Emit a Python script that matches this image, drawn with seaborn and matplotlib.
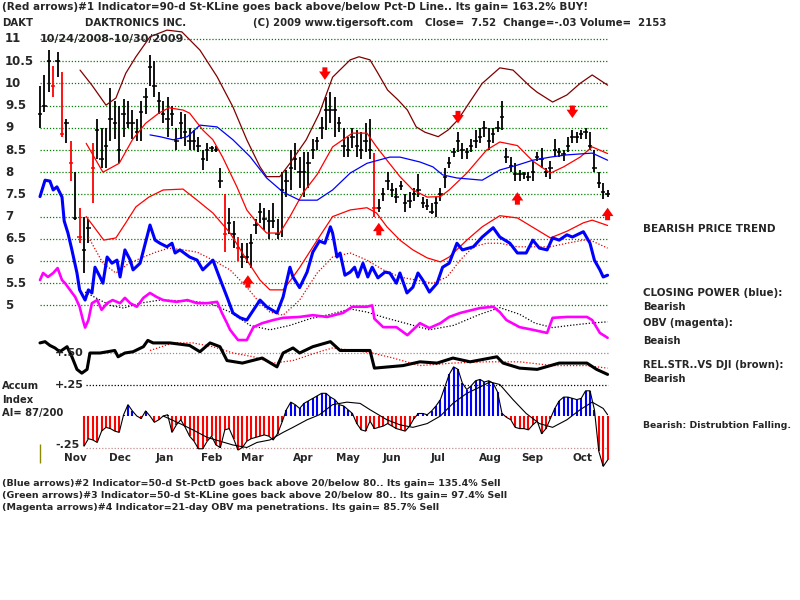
import matplotlib
matplotlib.use('Agg')
import matplotlib.pyplot as plt
import matplotlib.transforms as mtransforms
import seaborn as sns

# ==================================================
# 数据：DAKT 日线（每两天取一根），交易日序号 0 = 10/24/2008
# ==================================================
bar_day = list(range(0, 259, 2))
bar_hi = [9.95, 10.2, 10.75, 10.4, 10.7, 10.25, 9.2, 8.7, 8.0, 7.2,
          7.0, 6.95, 8.65, 9.2, 9.0, 9.0, 9.9, 9.6, 9.5, 9.65,
          9.6, 9.4, 9.2, 9.6, 9.9, 10.65, 10.5, 9.8, 9.6, 9.7,
          9.5, 9.0, 9.35, 9.3, 9.0, 8.95, 8.8, 8.5, 8.65, 8.6,
          8.6, 8.1, 7.5, 7.2, 6.9, 6.55, 6.4, 6.4, 6.6, 6.95,
          7.3, 7.2, 7.15, 7.3, 6.95, 8.0, 8.05, 8.5, 8.65, 8.35,
          8.45, 8.45, 8.75, 8.8, 9.25, 9.7, 9.8, 9.7, 9.25, 9.0,
          8.8, 9.0, 8.95, 8.9, 9.1, 9.2, 8.43, 7.4, 7.65, 8.0,
          7.75, 7.65, 7.8, 7.5, 7.55, 7.65, 7.95, 7.45, 7.4, 7.3,
          7.45, 7.65, 8.1, 8.35, 8.55, 8.9, 8.65, 8.55, 8.75, 8.95,
          9.0, 9.15, 9.0, 9.0, 9.15, 9.6, 8.55, 8.35, 8.2, 8.05,
          8.0, 8.0, 8.25, 8.45, 8.55, 8.1, 8.25, 8.75, 8.55, 8.5,
          8.8, 8.95, 8.9, 8.95, 9.0, 8.9, 8.5, 8.0, 7.75, 7.6]
bar_lo = [9.0, 9.35, 9.8, 9.7, 10.15, 8.8, 8.65, 7.8, 6.93, 6.4,
          5.73, 6.4, 7.3, 8.3, 8.1, 8.1, 8.7, 8.75, 8.2, 8.8,
          9.0, 8.75, 8.7, 8.7, 9.3, 9.95, 9.7, 9.3, 9.1, 8.8,
          9.05, 8.5, 8.75, 8.6, 8.5, 8.5, 8.45, 8.05, 8.25, 8.45,
          8.45, 7.65, 6.2, 6.6, 6.3, 6.0, 5.85, 5.95, 5.85, 6.6,
          6.85, 6.7, 6.5, 6.75, 6.5, 6.55, 7.45, 7.6, 8.05, 7.65,
          7.45, 7.65, 8.3, 8.5, 8.75, 8.95, 9.1, 8.8, 8.9, 8.35,
          8.35, 8.55, 8.35, 8.3, 8.45, 8.3, 7.0, 7.1, 7.35, 7.6,
          7.45, 7.3, 7.6, 7.1, 7.2, 7.35, 7.45, 7.2, 7.15, 7.05,
          7.0, 7.35, 7.65, 8.1, 8.35, 8.45, 8.3, 8.3, 8.45, 8.55,
          8.65, 8.8, 8.5, 8.65, 8.9, 8.95, 8.2, 8.0, 7.8, 7.8,
          7.85, 7.8, 7.8, 8.25, 8.1, 7.9, 7.85, 8.35, 8.35, 8.25,
          8.45, 8.65, 8.65, 8.75, 8.75, 8.5, 8.0, 7.65, 7.4, 7.45]
bar_cl = [9.3, 9.5, 10.5, 9.95, 10.5, 8.85, 9.1, 8.2, 6.97, 6.55,
          6.25, 6.75, 8.1, 8.95, 8.3, 8.6, 9.2, 9.1, 8.5, 9.3,
          9.1, 9.1, 8.9, 9.35, 9.7, 10.37, 9.95, 9.6, 9.3, 9.2,
          9.3, 8.7, 9.1, 8.9, 8.7, 8.7, 8.6, 8.3, 8.5, 8.55,
          8.5, 7.8, 6.6, 6.85, 6.6, 6.3, 6.1, 6.1, 6.4, 6.8,
          7.1, 6.95, 6.9, 6.9, 6.6, 7.6, 7.8, 8.1, 8.3, 8.0,
          8.0, 8.2, 8.5, 8.7, 9.0, 9.4, 9.4, 9.4, 9.1, 8.6,
          8.5, 8.8, 8.6, 8.5, 8.7, 8.5, 7.2, 7.2, 7.5, 7.8,
          7.6, 7.45, 7.7, 7.3, 7.35, 7.5, 7.6, 7.3, 7.25, 7.1,
          7.3, 7.5, 7.9, 8.2, 8.45, 8.7, 8.5, 8.45, 8.6, 8.7,
          8.8, 9.0, 8.7, 8.85, 9.0, 9.25, 8.35, 8.15, 7.95, 7.95,
          7.95, 7.9, 8.0, 8.35, 8.3, 8.0, 8.1, 8.5, 8.45, 8.4,
          8.6, 8.8, 8.8, 8.85, 8.9, 8.6, 8.1, 7.75, 7.55, 7.52]
red_days = [6, 10, 14, 18, 24, 84, 90, 152]

# 上轨（棕色）
brown_day = [18.2, 23.6, 30, 34.5, 39, 43.6, 50, 57.7, 64.5, 72.7, 80.5, 87.7, 94, 100, 103,
             109, 113.6, 121, 127, 133, 141, 145, 150, 153.6, 158, 162.7, 167, 171, 175, 181,
             185.5, 190, 196, 201, 209, 215, 223, 226, 233, 239.5, 245.5, 251, 258]
brown_val = [10.3, 9.96, 9.51, 9.67, 10.23, 10.6, 11.05, 11.2, 11.16, 10.75, 10.15, 9.47, 8.73, 8.12, 7.9,
             7.9, 8.2, 8.73, 9.33, 10.14, 10.53, 10.6, 10.53, 10.23, 9.85, 9.63, 9.4, 9.02, 8.9, 8.8,
             8.95, 9.18, 9.63, 10.0, 10.35, 10.3, 9.92, 9.8, 9.58, 9.74, 10.0, 10.19, 9.96]

# 红色上带 / 下带
redup_day = [21, 28.6, 36, 42, 48, 54, 58.6, 65, 68, 74, 78.6, 83, 89.5, 94, 98.6, 103, 109,
             113.6, 119.5, 126, 133, 142, 148.6, 153, 157.7, 163.6, 169.5, 176, 182, 186, 194,
             203, 209, 217, 224, 232, 238, 245.5, 251, 258]
redup_val = [8.65, 8.0, 8.2, 8.73, 9.1, 9.33, 9.45, 9.4, 9.33, 8.95, 8.73, 8.34, 7.67, 7.15, 6.86, 6.63, 6.63,
             7.0, 7.53, 7.95, 8.57, 8.88, 8.88, 8.57, 8.27, 7.9, 7.6, 7.44, 7.45, 7.6, 7.98,
             8.5, 8.68, 8.6, 8.25, 7.98, 8.12, 8.34, 8.57, 8.42]
redlo_day = [21, 24.5, 29, 34.5, 39, 43.6, 49.5, 56, 65, 71.4, 78.6, 86.4, 94, 100, 104.5, 110.5,
             115, 118, 126, 133, 141, 148.6, 153, 157.7, 163.6, 169.5, 176, 182, 186, 194, 201,
             209, 217, 226, 232, 239.5, 247, 251, 258]
redlo_val = [7.0, 6.77, 6.47, 6.52, 6.86, 7.22, 7.44, 7.6, 7.62, 7.37, 7.08, 6.63, 6.02, 5.57, 5.35, 5.35,
             5.64, 5.85, 6.47, 7.0, 7.15, 7.2, 7.08, 6.77, 6.47, 6.25, 6.07, 5.98, 6.09, 6.47, 6.77,
             7.02, 6.97, 6.7, 6.52, 6.67, 6.86, 6.92, 6.8]

# 蓝色细线（均线）
ma_day = [50, 54.5, 60.5, 67, 72.7, 80.5, 87.7, 95.5, 103, 110.5, 118, 126, 133, 141, 148.6,
          159, 163.6, 172.7, 178.6, 183, 189.5, 201, 209, 217, 224, 232, 239.5, 251, 258]
ma_val = [8.84, 8.8, 8.73, 8.8, 9.06, 9.02, 8.73, 8.35, 7.87, 7.55, 7.37, 7.37, 7.6, 7.98, 8.2,
          8.34, 8.34, 8.23, 8.12, 7.94, 7.87, 7.82, 8.05, 8.16, 8.27, 8.34, 8.39, 8.43, 8.27]

# Closing Power（蓝色粗线）及其红色虚线均线
cp_day = [0, 2.3, 4.5, 6, 7.7, 10, 11, 12.7, 14.5, 16.8, 18, 20.5, 22, 23.6, 25, 27.3, 28.6, 30.5,
          32.7, 35, 36.4, 38.6, 41, 42.3, 45.5, 48.6, 50, 52.3, 54.5, 57.7, 60, 61.4, 63.6, 68,
          71.4, 74, 78.6, 81.8, 85, 87.7, 91, 94, 100, 103, 107.7, 110.5, 113.6, 115, 118, 121.4,
          124, 127, 129.5, 132, 133, 135, 136.4, 138.6, 141, 143, 144.5, 146.8, 149, 151, 153.6,
          156.8, 159, 162, 163.6, 166.8, 169.5, 171.8, 174, 177, 180.5, 183, 186, 189.5, 192, 197,
          201, 206, 209, 213.6, 217, 221, 224, 227, 230.5, 233, 236, 239.5, 242, 247, 250, 252,
          254.5, 256, 258]
cp_val = [7.45, 7.82, 7.8, 7.6, 7.67, 7.44, 6.9, 6.63, 6.25, 5.73, 5.35, 5.12, 5.35, 5.28, 5.86, 5.64, 5.5, 6.09,
          5.95, 6.02, 5.64, 6.25, 6.02, 5.8, 5.95, 6.54, 6.81, 6.47, 6.4, 6.32, 6.4, 6.18, 6.25, 6.09,
          6.02, 5.8, 6.02, 5.6, 5.19, 4.83, 4.72, 4.67, 5.12, 4.97, 4.83, 5.19, 5.86, 5.64, 5.4, 5.75,
          6.2, 6.45, 6.4, 6.77, 6.63, 6.09, 6.18, 5.68, 5.75, 5.86, 5.64, 5.95, 5.64, 5.86, 5.62,
          5.75, 5.73, 5.5, 5.73, 5.28, 5.41, 5.73, 5.57, 5.3, 5.5, 5.86, 5.95, 6.4, 6.25, 6.32,
          6.54, 6.75, 6.54, 6.4, 6.18, 6.18, 6.47, 6.29, 6.25, 6.52, 6.47, 6.59, 6.54, 6.66, 6.4, 6.02,
          5.8, 5.64, 5.68]
cpma_day = [22, 28.6, 34.5, 40.5, 47, 52.7, 58.6, 65, 71.4, 78.6, 86.4, 94, 100, 104.5, 110.5, 118,
            126, 133, 141, 148.6, 156, 163.6, 171, 178.6, 185, 191, 197, 203, 209, 217, 232, 239.5,
            247, 251, 258]
cpma_val = [6.54, 5.95, 5.73, 5.95, 6.09, 6.2, 6.29, 6.25, 6.2, 6.02, 5.8, 5.41, 5.05, 4.85, 4.78, 5.12,
            5.73, 6.09, 6.18, 6.02, 5.8, 5.64, 5.57, 5.5, 5.64, 6.02, 6.32, 6.4, 6.4, 6.32, 6.32, 6.4,
            6.47, 6.45, 6.29]

# OBV（洋红）及其黑色虚线均线
obv_day = [0, 1.4, 3.6, 6, 8, 10, 11.4, 13.6, 16, 18, 19.5, 20.5, 22, 23.6, 26, 28, 30.5, 33, 36.4,
           38.6, 41, 44, 47, 50, 53, 56, 62, 67, 71.4, 76, 80.5, 82.7, 85, 86.4, 90, 94, 97, 101,
           106, 110.5, 118, 124, 130.5, 137.7, 142, 148.6, 151, 152, 156, 162, 167, 172.7, 177, 182,
           186, 191, 200, 206, 209, 212, 218, 224, 230.5, 233, 239.5, 248.6, 251, 254.5, 258]
obv_val = [5.57, 5.73, 5.64, 5.73, 5.84, 5.57, 5.5, 5.35, 5.19, 4.97, 4.67, 4.5, 4.67, 5.05, 5.12, 4.9, 5.05, 5.12, 5.05,
           5.17, 5.05, 4.97, 5.17, 5.28, 5.19, 5.12, 5.08, 5.12, 5.05, 5.05, 5.08, 4.83, 4.6, 4.45, 4.22, 4.22, 4.51, 4.6,
           4.67, 4.72, 4.74, 4.78, 4.74, 4.83, 4.97, 4.97, 5.0, 4.7, 4.51, 4.51, 4.33, 4.6, 4.49, 4.6,
           4.74, 4.83, 4.94, 4.97, 4.85, 4.67, 4.51, 4.45, 4.38, 4.72, 4.74, 4.74, 4.67, 4.38, 4.27]
obvma_day = [20.5, 27.3, 32, 38, 45.5, 54.5, 68, 77, 86.4, 95.5, 104.5, 113.6, 122.7, 132, 141, 148.6,
             157, 166, 177, 188, 200, 209, 218, 225, 233, 241, 250, 258]
obvma_val = [5.3, 5.12, 5.0, 4.94, 5.05, 5.12, 5.1, 5.05, 4.85, 4.55, 4.45, 4.55, 4.7, 4.8, 4.92, 4.85,
             4.72, 4.6, 4.45, 4.55, 4.8, 4.95, 4.8, 4.6, 4.5, 4.55, 4.6, 4.63]

# 相对强度 vs DJI（黑色粗线）及其红色虚线均线，单位同 AI 刻度
rs_day = [0, 2.3, 4.5, 6.8, 9, 12.3, 14.5, 16.8, 19, 21.4, 22.7, 27.3, 34, 35.5, 38.6, 42.3, 47, 49,
          51.4, 59, 68, 72.7, 77.3, 81.8, 85, 92, 101, 107.7, 110.5, 115, 118, 124, 132, 136.4, 150,
          152, 165, 172.7, 180.5, 187.7, 195.5, 207.7, 210.5, 218, 226, 236, 248.6, 253, 258]
rs_val = [0.58, 0.59, 0.56, 0.54, 0.51, 0.55, 0.47, 0.37, 0.34, 0.37, 0.5, 0.5, 0.52, 0.47, 0.5, 0.51, 0.55, 0.6,
          0.58, 0.58, 0.56, 0.51, 0.58, 0.55, 0.44, 0.42, 0.46, 0.39, 0.5, 0.54, 0.5, 0.55, 0.59, 0.52, 0.52,
          0.38, 0.4, 0.43, 0.42, 0.46, 0.43, 0.47, 0.42, 0.38, 0.37, 0.42, 0.42, 0.37, 0.33]
rsma_day = [50, 60.5, 69.5, 78.6, 87.7, 97, 106, 115, 127, 133, 142, 151, 160.5, 172.7, 187.7, 203,
            218, 233, 248.6, 258]
rsma_val = [0.52, 0.58, 0.58, 0.55, 0.5, 0.47, 0.42, 0.44, 0.51, 0.54, 0.52, 0.5, 0.46, 0.4, 0.42, 0.43,
            0.43, 0.4, 0.4, 0.38]

# Accumulation Index
ai_day = list(range(20, 259, 2))
ai_val = [-0.24, -0.18, -0.19, -0.21, -0.12, -0.09, -0.10, -0.12, -0.13, 0.01,
          0.09, 0.04, 0.00, -0.02, 0.04, 0.00, -0.05, -0.03, 0.00, 0.01,
          -0.13, -0.07, -0.03, -0.09, -0.16, -0.20, -0.26, -0.26, -0.20, -0.16,
          -0.23, -0.25, -0.11, -0.10, -0.18, -0.27, -0.25, -0.20, -0.18, -0.17,
          -0.16, -0.15, -0.16, -0.19, -0.14, -0.05, 0.05, 0.11, 0.09, 0.06,
          0.10, 0.12, 0.14, 0.16, 0.18, 0.18, 0.15, 0.13, 0.09, 0.08,
          0.05, 0.02, -0.06, -0.11, -0.12, -0.04, -0.10, -0.09, -0.08, -0.06,
          -0.08, -0.10, -0.11, -0.12, -0.08, -0.02, 0.02, 0.02, 0.01, 0.04,
          0.08, 0.13, 0.23, 0.33, 0.39, 0.37, 0.26, 0.21, 0.24, 0.28,
          0.29, 0.27, 0.28, 0.26, 0.19, 0.02, -0.01, -0.03, -0.09, -0.10,
          -0.10, -0.11, -0.07, -0.04, -0.14, -0.10, -0.02, 0.06, 0.12, 0.15,
          0.15, 0.14, 0.13, 0.14, 0.20, 0.20, 0.05, -0.28, -0.40, -0.35]
aima_day = [56, 63.6, 69.5, 76, 81.8, 87.7, 94, 98.6, 104.5, 110.5, 115, 121.4, 127, 133, 139.5,
            145.5, 150, 157.7, 163.6, 169.5, 176, 182, 187.7, 194, 200, 204.5, 209, 215, 221, 227,
            233, 239.5, 245.5, 251, 256, 258]
aima_val = [0.0, -0.06, -0.11, -0.17, -0.2, -0.23, -0.25, -0.21, -0.19, -0.13, -0.09, -0.03, 0.01, 0.09, 0.11,
            0.1, 0.05, -0.03, -0.07, -0.09, -0.06, 0.0, 0.1, 0.18, 0.23, 0.27, 0.25, 0.13, 0.02, -0.06,
            -0.09, -0.03, 0.05, 0.11, 0.06, 0.01]

# 红色箭头（箭头尖端位置）
down_day = [129.5, 190, 242]
down_tip = [10.08, 9.1, 9.22]
up_day = [94.5, 154, 217, 258]
up_tip = [5.68, 6.86, 7.55, 7.2]

price_levels = [11, 10.5, 10, 9.5, 9, 8.5, 8, 7.5, 7, 6.5, 6, 5.5, 5]
price_labels = ['11', '10.5', '10', '9.5', '9', '8.5', '8', '7.5', '7', '6.5', '6', '5.5', '5']
month_names = ['Nov', 'Dec', 'Jan', 'Feb', 'Mar', 'Apr', 'May', 'Jun', 'Jul', 'Aug', 'Sep', 'Oct']
month_day = [15.9, 36.4, 56.8, 78.2, 96.4, 119.5, 140, 160, 181, 204.5, 224, 246.4]

# ==================================================
# 画布与坐标轴
# ==================================================
sns.set_theme(style='white')
plt.rcParams['font.family'] = ['DejaVu Sans']

fig = plt.figure(figsize=(8, 6), dpi=100)
fig.patch.set_facecolor('white')

rect = [30 / 800, 1 - 470 / 600, 610 / 800, 442 / 600]
ax = fig.add_axes(rect)
ax2 = fig.add_axes(rect, sharex=ax)
for a in (ax, ax2):
    a.set_axis_off()
    a.patch.set_alpha(0)
ax.set_xlim(-10 / 2.2, 600 / 2.2)
ax.set_ylim(11 - 431 / 44.4, 11 + 11 / 44.4)
ax2.set_ylim(-54 / 126, 388 / 126)

dots = (0, (1, 1.5))

# 绿色点状网格
ax.hlines(price_levels, 0, 258, colors='#008000', linestyles=dots, lw=0.9)

# 价格柱
bar_colors = ['#ff0000' if d in red_days else 'black' for d in bar_day]
ax.vlines(bar_day, bar_lo, bar_hi, colors=bar_colors, lw=1.3)
ax.hlines(bar_cl, [d - 1.0 for d in bar_day], [d + 1.0 for d in bar_day], colors=bar_colors, lw=1.1)

# 各条指标线
def line(a, x, y, color, lw, ls='-'):
    sns.lineplot(x=x, y=y, ax=a, color=color, lw=lw, linestyle=ls,
                 estimator=None, sort=False, legend=False)

line(ax, brown_day, brown_val, '#800000', 0.9)
line(ax, redup_day, redup_val, '#ff0000', 0.9)
line(ax, redlo_day, redlo_val, '#ff0000', 0.9)
line(ax, ma_day, ma_val, '#0000ff', 0.9)
line(ax, cpma_day, cpma_val, '#e00000', 0.9, dots)
line(ax, obvma_day, obvma_val, 'black', 0.9, dots)
line(ax, obv_day, obv_val, '#ff00ff', 1.9)
line(ax, cp_day, cp_val, '#0000ff', 2.2)

# 箭头
arrow_style = dict(arrowstyle='simple,head_length=0.5,head_width=0.7,tail_width=0.3',
                   color='#ff0000', lw=0, shrinkA=0, shrinkB=0)
for d, t in zip(down_day, down_tip):
    ax.annotate('', xy=(d, t), xytext=(0, 9), textcoords='offset points', arrowprops=arrow_style)
for d, t in zip(up_day, up_tip):
    ax.annotate('', xy=(d, t), xytext=(0, -9), textcoords='offset points', arrowprops=arrow_style)

# 下方 AI 区域
ax2.hlines(0.5, 22, 258, colors='#909090', linestyles=dots, lw=0.9)
ax2.hlines(0.25, 21, 258, colors='black', linestyles=dots, lw=0.9)
ax2.hlines(-0.25, 21, 258, colors='#c09090', linestyles=dots, lw=0.9)
ai_colors = ['#0000ff' if v > 0 else '#ff0000' for v in ai_val]
ax2.vlines(ai_day, 0, ai_val, colors=ai_colors, lw=1.5)
line(ax2, ai_day, ai_val, 'black', 0.8)
line(ax2, aima_day, aima_val, 'black', 0.8)
line(ax2, rsma_day, rsma_val, '#ff0000', 0.9, dots)
line(ax2, rs_day, rs_val, 'black', 2.2)
ax2.vlines(0, -0.37, -0.22, colors='#8b8b00', lw=1)

# ==================================================
# 文字
# ==================================================
def txt(x, y, s, size=7.3):
    fig.text(x / 800, 1 - y / 600, s, fontsize=size, fontweight='bold', va='center', ha='left')

txt(2, 7, '(Red arrows)#1 Indicator=90-d St-KLine goes back above/below Pct-D Line.. Its gain= 163.2% BUY!', 7.5)
txt(2, 23, 'DAKT')
txt(85, 23, 'DAKTRONICS INC.')
txt(253, 23, '(C) 2009 www.tigersoft.com')
txt(425, 23, 'Close=  7.52  Change=-.03 Volume=  2153')
txt(40, 39, '10/24/2008-10/30/2009', 8)

trans_p = mtransforms.blended_transform_factory(fig.transFigure, ax.transData)
for v, s in zip(price_levels, price_labels):
    fig.text(5 / 800, v, s, transform=trans_p, fontsize=8.5, fontweight='bold', va='center', ha='left')

trans_a = mtransforms.blended_transform_factory(fig.transFigure, ax2.transData)
for v, s in [(0.5, '+.50'), (0.25, '+.25'), (-0.23, '-.25')]:
    fig.text(55 / 800, v, s, transform=trans_a, fontsize=8, fontweight='bold', va='center', ha='left')

txt(2, 386, 'Accum', 7.2)
txt(2, 400, 'Index', 7.2)
txt(2, 413, 'AI= 87/200', 7.2)

for d, m in zip(month_day, month_names):
    ax2.text(d, -0.33, m, fontsize=7.5, fontweight='bold', ha='center', va='center')

right = [(229, 'BEARISH PRICE TREND', 7.5), (293, 'CLOSING POWER (blue):', 7.4), (307, 'Bearish', 7.2),
         (323, 'OBV (magenta):', 7.2), (341, 'Beaish', 7.2), (365, 'REL.STR..VS DJI (brown):', 7.2),
         (379, 'Bearish', 7.2), (425, 'Bearish: Distrubtion Falling.', 6.7)]
for y, s, size in right:
    txt(643, y, s, size)

txt(2, 484, '(Blue arrows)#2 Indicator=50-d St-PctD goes back above 20/below 80.. Its gain= 135.4% Sell', 6.8)
txt(2, 496, '(Green arrows)#3 Indicator=50-d St-KLine goes back above 20/below 80.. Its gain= 97.4% Sell', 6.8)
txt(2, 508, '(Magenta arrows)#4 Indicator=21-day OBV ma penetrations. Its gain= 85.7% Sell', 6.8)

fig.savefig('out.png', dpi=100)
